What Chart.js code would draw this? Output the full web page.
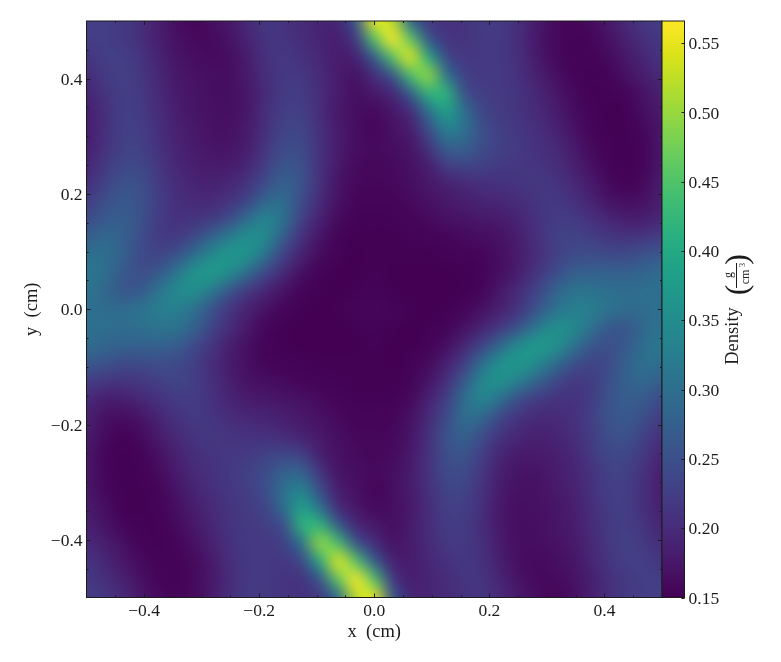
<!DOCTYPE html>
<html>
<head>
<meta charset="utf-8">
<script src="https://cdn.jsdelivr.net/npm/chart.js@4"></script>
<style>
  html, body { margin: 0; padding: 0; background: #fff; }
  #wrap { position: relative; width: 781px; height: 662px; overflow: hidden; }
  canvas { position: absolute; top: 0; }
</style>
</head>
<body>
<div id="wrap">
  <canvas id="density" width="781" height="662" style="left:0"></canvas>
  <canvas id="colorbar" width="141" height="662" style="left:640px"></canvas>
</div>
<script>
const xMajorTicks = [-0.4, -0.2, 0, 0.2, 0.4];
const yMajorTicks = [-0.4, -0.2, 0, 0.2, 0.4];
const minorTicks = [-0.45, -0.35, -0.3, -0.25, -0.15, -0.1, -0.05, 0.05, 0.1, 0.15, 0.25, 0.3, 0.35, 0.45];
const colorbarTicks = [0.15, 0.2, 0.25, 0.3, 0.35, 0.4, 0.45, 0.5, 0.55];
const densityMin = 0.15;
const densityMax = 0.566;
const viridis = ['#440154', '#48186a', '#472d7b', '#424086', '#3b528b', '#33638d', '#2c728e', '#26828e', '#21918c',
  '#1fa088', '#28ae80', '#3fbc73', '#5ec962', '#84d44b', '#addc30', '#d8e219', '#fde725'];

// density, in 0.001 g/cm3, top row is y = 0.5, left column is x = -0.5, step 1/32 cm
const densityRows = [
  [225,225,218,205,184,165,155,165,176,198,215,208,198,191,192,270,555,520,290,218,208,212,218,221,205,180,160,155,160,176,198,215,225],
  [225,225,218,205,184,168,160,160,172,191,212,212,201,191,184,220,450,566,460,260,212,212,218,218,201,176,160,153,155,168,187,205,218],
  [212,225,225,212,191,172,165,160,165,184,208,215,208,195,180,190,270,450,550,400,240,215,218,218,205,180,160,153,153,160,176,195,212],
  [201,218,229,215,195,176,168,165,165,180,205,218,215,198,180,170,205,255,440,500,310,230,218,218,208,187,168,155,152,153,168,184,198],
  [191,212,225,218,198,180,172,165,165,176,201,221,221,201,180,165,178,195,270,420,420,250,225,218,212,195,176,160,151,152,155,172,187],
  [184,205,225,221,201,184,172,168,165,176,205,225,225,201,176,165,160,175,200,300,385,300,235,222,212,198,184,165,153,151,151,165,180],
  [180,205,225,225,205,187,176,168,168,180,208,234,234,205,180,165,155,168,182,245,330,305,250,225,216,205,191,172,155,151,151,158,176],
  [184,208,229,229,208,191,180,172,172,184,215,242,242,208,180,165,160,165,172,210,275,275,245,230,218,208,198,180,160,152,151,155,176],
  [191,218,238,238,215,195,184,180,180,195,225,260,248,208,176,160,158,160,168,184,225,235,230,218,215,212,205,187,168,153,151,155,176],
  [205,229,254,248,221,201,191,187,195,212,248,277,254,205,172,158,157,158,165,176,187,198,205,208,212,215,212,198,180,160,152,160,184],
  [221,248,265,254,225,205,198,198,212,238,289,295,242,198,168,155,155,155,160,168,176,184,191,195,201,212,218,208,191,172,165,168,187],
  [242,265,271,254,221,208,212,221,248,301,337,301,225,187,160,152,152,152,155,160,168,172,176,180,191,208,221,221,208,195,184,184,198],
  [271,289,277,248,221,218,242,283,325,358,342,265,205,172,153,151,151,151,152,153,155,160,165,168,184,205,225,234,225,215,212,215,225],
  [301,301,277,242,234,254,301,347,368,358,301,225,187,160,152,150,151,151,151,151,152,153,155,165,180,201,225,242,248,242,242,254,265],
  [313,301,265,248,265,313,363,372,347,289,234,195,165,152,150,150,152,150,150,150,150,151,153,165,184,212,242,271,277,277,277,283,295],
  [307,289,260,265,307,347,353,313,254,215,191,168,153,151,150,151,153,151,150,150,150,151,155,176,201,234,277,307,307,301,295,301,301],
  [301,295,295,307,325,325,301,254,212,187,168,155,151,150,151,154,158,154,151,150,151,155,168,187,212,254,301,325,325,307,295,295,301],
  [301,301,295,301,307,307,277,234,201,176,155,151,150,150,150,151,153,151,150,151,153,168,191,215,254,313,353,347,307,265,260,289,307],
  [295,283,277,277,277,271,242,212,184,165,153,151,150,150,150,150,152,150,150,152,165,195,234,289,347,372,363,313,265,248,265,301,313],
  [265,254,242,242,248,242,225,201,180,165,155,153,152,151,151,151,151,150,152,160,187,225,301,358,368,347,301,254,234,242,277,301,301],
  [225,215,212,215,225,234,225,205,184,168,165,160,155,153,152,151,151,151,153,172,205,265,342,358,325,283,242,218,221,248,277,289,271],
  [198,184,184,195,208,221,221,208,191,180,176,172,168,160,155,152,152,152,160,187,225,301,337,301,248,221,212,208,221,254,271,265,242],
  [187,168,165,172,191,208,218,212,201,195,191,184,176,168,160,155,155,155,168,198,242,295,289,238,212,198,198,205,225,254,265,248,221],
  [184,160,152,160,180,198,212,215,212,208,205,198,187,176,165,158,157,158,172,205,254,277,248,212,195,187,191,201,221,248,254,229,205],
  [176,155,151,153,168,187,205,212,215,218,230,235,225,184,168,160,158,160,176,208,248,260,225,195,180,180,184,195,215,238,238,218,191],
  [176,155,151,152,160,180,198,208,218,230,245,275,275,210,172,165,160,165,180,208,242,242,215,184,172,172,180,191,208,229,229,208,184],
  [176,158,151,151,155,172,191,205,216,225,250,305,330,245,182,168,155,165,180,205,234,234,208,180,168,168,176,187,205,225,225,205,180],
  [180,165,151,151,153,165,184,198,212,222,235,300,385,300,200,175,160,165,176,201,225,225,205,176,165,168,172,184,201,221,225,205,184],
  [187,172,155,152,151,160,176,195,212,218,225,250,420,420,270,195,178,165,180,201,221,221,201,176,165,165,172,180,198,218,225,212,191],
  [198,184,168,153,152,155,168,187,208,218,218,230,310,500,440,255,205,170,180,198,215,218,205,180,165,165,168,176,195,215,229,218,201],
  [212,195,176,160,153,153,160,180,205,218,218,215,240,400,550,450,270,190,180,195,208,215,208,184,165,160,165,172,191,212,225,225,212],
  [218,205,187,168,155,153,160,176,201,218,218,212,212,260,460,566,450,220,184,191,201,212,212,191,172,160,160,168,184,205,218,225,225],
  [225,215,198,176,160,155,160,180,205,221,218,212,208,218,290,520,555,270,192,191,198,208,215,198,176,165,155,165,184,205,218,225,225]
];

const cellStep = 1 / 32;
const inkColor = '#1c1c1c';
const serif = 'Liberation Serif';

Chart.defaults.font.family = serif;
Chart.defaults.font.size = 17.5;
Chart.defaults.color = inkColor;
Chart.defaults.animation = false;

function hexToRgb(hex) {
  return [1, 3, 5].map(i => parseInt(hex.slice(i, i + 2), 16));
}

function colorFor(density) {
  const t = Math.min(1, Math.max(0, (density - densityMin) / (densityMax - densityMin))) * (viridis.length - 1);
  const i = Math.min(viridis.length - 2, Math.floor(t));
  const a = hexToRgb(viridis[i]);
  const b = hexToRgb(viridis[i + 1]);
  return a.map((c, k) => Math.round(c + (b[k] - c) * (t - i)));
}

const cellPoints = [];
densityRows.forEach((row, j) => {
  row.forEach((v, i) => {
    cellPoints.push({ x: -0.5 + i * cellStep, y: 0.5 - j * cellStep, v: v / 1000 });
  });
});

// paints the cells through the scales, canvas smoothing does the shading between them
const heatmapPlugin = {
  id: 'heatmap',
  beforeDatasetsDraw(chart) {
    const { ctx, chartArea, scales } = chart;
    const rows = densityRows.length;
    const cols = densityRows[0].length;
    const off = document.createElement('canvas');
    off.width = cols;
    off.height = rows;
    const offCtx = off.getContext('2d');
    const image = offCtx.createImageData(cols, rows);
    cellPoints.forEach((p, n) => {
      const c = colorFor(p.v);
      image.data.set([c[0], c[1], c[2], 255], n * 4);
    });
    offCtx.putImageData(image, 0, 0);

    const left = scales.x.getPixelForValue(-0.5 - cellStep / 2);
    const right = scales.x.getPixelForValue(0.5 + cellStep / 2);
    const top = scales.y.getPixelForValue(0.5 + cellStep / 2);
    const bottom = scales.y.getPixelForValue(-0.5 - cellStep / 2);
    ctx.save();
    ctx.beginPath();
    ctx.rect(chartArea.left, chartArea.top, chartArea.width, chartArea.height);
    ctx.clip();
    ctx.imageSmoothingEnabled = true;
    ctx.imageSmoothingQuality = 'high';
    ctx.drawImage(off, left, top, right - left, bottom - top);
    // soft pass on top, the plain pass stays visible at the edges where the blur fades out
    ctx.filter = 'blur(5px)';
    ctx.drawImage(off, left, top, right - left, bottom - top);
    ctx.restore();
  }
};

function tickLine(ctx, x1, y1, x2, y2) {
  ctx.beginPath();
  ctx.moveTo(x1, y1);
  ctx.lineTo(x2, y2);
  ctx.stroke();
}

const framePlugin = {
  id: 'frame',
  afterDraw(chart) {
    const { ctx, chartArea: a, scales } = chart;
    ctx.save();
    ctx.strokeStyle = inkColor;
    ctx.lineWidth = 1;
    const drawX = (v, len) => {
      const x = Math.round(scales.x.getPixelForValue(v)) + 0.5;
      tickLine(ctx, x, a.bottom, x, a.bottom - len);
      tickLine(ctx, x, a.top, x, a.top + len);
    };
    const drawY = (v, len) => {
      const y = Math.round(scales.y.getPixelForValue(v)) + 0.5;
      tickLine(ctx, a.left, y, a.left + len, y);
      tickLine(ctx, a.right, y, a.right - len, y);
    };
    xMajorTicks.forEach(v => drawX(v, 4));
    yMajorTicks.forEach(v => drawY(v, 4));
    minorTicks.forEach(v => { drawX(v, 2); drawY(v, 2); });
    ctx.strokeRect(a.left, a.top, a.width, a.height);
    ctx.restore();
  }
};

const axisLabel = v => (v < 0 ? '\u2212' : '') + Math.abs(v).toFixed(1);

new Chart(document.getElementById('density'), {
  type: 'scatter',
  data: {
    datasets: [{
      label: 'Density',
      data: cellPoints,
      pointRadius: 0
    }]
  },
  options: {
    responsive: false,
    layout: { padding: { top: 21, right: 119, left: 0, bottom: 0 } },
    plugins: { legend: { display: false }, tooltip: { enabled: false } },
    scales: {
      x: {
        type: 'linear',
        min: -0.5,
        max: 0.5,
        grid: { display: false, drawTicks: false },
        border: { display: false },
        afterBuildTicks: scale => { scale.ticks = xMajorTicks.map(value => ({ value })); },
        afterFit: scale => { scale.height = 64.5; },
        ticks: { padding: 3, maxRotation: 0, autoSkip: false, callback: axisLabel },
        title: { display: true, text: 'x  (cm)', font: { size: 18.5 }, padding: { top: 0, bottom: 19 } }
      },
      y: {
        type: 'linear',
        min: -0.5,
        max: 0.5,
        grid: { display: false, drawTicks: false },
        border: { display: false },
        afterBuildTicks: scale => { scale.ticks = yMajorTicks.map(value => ({ value })); },
        afterFit: scale => { scale.width = 86.5; },
        ticks: { padding: 4, labelOffset: 1.5, autoSkip: false, callback: axisLabel },
        title: { display: true, text: 'y  (cm)', font: { size: 18.5 }, padding: { top: 21, bottom: 0 } }
      }
    }
  },
  plugins: [heatmapPlugin, framePlugin]
});

// colorbar label is a stacked fraction, the axis title can not do that
const colorbarPlugin = {
  id: 'colorbarFrame',
  afterDraw(chart) {
    const { ctx, chartArea: a, scales } = chart;
    ctx.save();
    ctx.strokeStyle = inkColor;
    ctx.lineWidth = 1;
    colorbarTicks.forEach(v => {
      const y = Math.round(scales.y.getPixelForValue(v)) + 0.5;
      tickLine(ctx, a.right, y, a.right - 3, y);
    });
    ctx.strokeRect(a.left, a.top, a.width, a.height);

    ctx.fillStyle = inkColor;
    ctx.rotate(-Math.PI / 2);
    ctx.textAlign = 'center';
    ctx.textBaseline = 'alphabetic';
    // rotated frame: first coordinate is minus page y, second is page x minus 640
    ctx.font = `18.5px "${serif}"`;
    ctx.fillText('Density', -336, 98);
    ctx.font = `12px "${serif}"`;
    ctx.fillText('g', -275, 92);
    ctx.fillText('cm', -277, 109);
    ctx.font = `8px "${serif}"`;
    ctx.fillText('3', -265, 105);
    ctx.fillRect(-288, 96, 25, 1);
    ctx.font = `32px "${serif}"`;
    ctx.fillText('(', -290, 107);
    ctx.fillText(')', -259.5, 107);
    ctx.restore();
  }
};

new Chart(document.getElementById('colorbar'), {
  type: 'bar',
  data: {
    labels: ['Density'],
    datasets: [{
      data: [[densityMin, densityMax]],
      barPercentage: 1,
      categoryPercentage: 1,
      borderWidth: 0,
      backgroundColor(context) {
        const area = context.chart.chartArea;
        if (!area) return viridis[0];
        const gradient = context.chart.ctx.createLinearGradient(0, area.bottom, 0, area.top);
        viridis.forEach((c, i) => gradient.addColorStop(i / (viridis.length - 1), c));
        return gradient;
      }
    }]
  },
  options: {
    responsive: false,
    layout: { padding: { top: 21, left: 22, right: 0, bottom: 64.5 } },
    plugins: { legend: { display: false }, tooltip: { enabled: false } },
    scales: {
      x: { display: false },
      y: {
        position: 'right',
        min: densityMin,
        max: densityMax,
        grid: { display: false, drawTicks: false },
        border: { display: false },
        afterBuildTicks: scale => { scale.ticks = colorbarTicks.map(value => ({ value })); },
        afterFit: scale => { scale.width = 96.5; },
        ticks: { padding: 4, labelOffset: 1.5, autoSkip: false, callback: v => v.toFixed(2) }
      }
    }
  },
  plugins: [colorbarPlugin]
});
</script>
</body>
</html>
